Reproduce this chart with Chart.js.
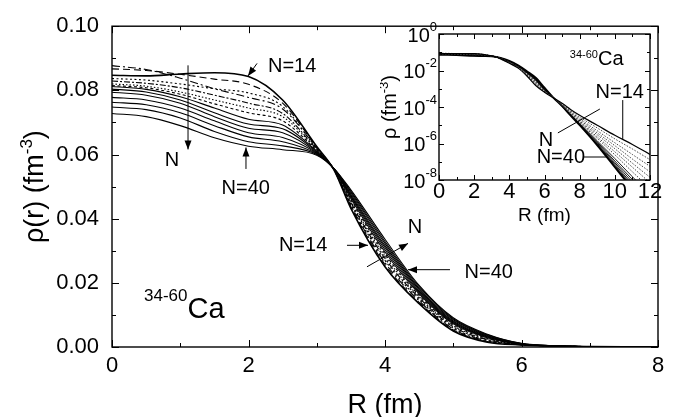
<!DOCTYPE html>
<html>
<head>
<meta charset="utf-8">
<script src="https://cdn.jsdelivr.net/npm/chart.js@4.4.1/dist/chart.umd.min.js"></script>
<style>
  html, body { margin: 0; padding: 0; background: #fff; }
  #wrap { position: relative; width: 675px; height: 417px; }
  #main { position: absolute; left: 0; top: 0; }
  #inset { position: absolute; left: 380px; top: 20px; }
</style>
</head>
<body>
<div id="wrap">
  <canvas id="main" width="675" height="417"></canvas>
  <canvas id="inset" width="290" height="215"></canvas>
</div>
<script>
// radius grid (fm) and densities (fm^-3), one array per neutron number
const radius = [0, 0.5, 1, 1.5, 2, 2.5, 3, 3.25, 3.5, 4, 4.5, 5, 5.5, 6, 6.5, 7, 7.5, 8, 9, 10, 11, 12];
const neutronNumbers = [14, 16, 18, 20, 22, 24, 26, 28, 30, 32, 34, 36, 38, 40];

const rho14 = [0.0847, 0.0845, 0.0851, 0.0855, 0.0843, 0.0770, 0.0625, 0.0553, 0.0432, 0.0250, 0.0135, 0.0050, 0.0015, 6.5e-4, 3.2e-4, 1.6e-4, 7.1e-5, 3.5e-5, 1.0e-5, 2.8e-6, 8.9e-7, 2.5e-7];
const rho16 = [0.0867, 0.0862, 0.0850, 0.0835, 0.0819, 0.0760, 0.0622, 0.0553, 0.0437, 0.0257, 0.0139, 0.0053, 0.0017, 6.6e-4, 3.3e-4, 1.4e-4, 6.0e-5, 2.8e-5, 7.1e-6, 1.8e-6, 5.0e-7, 1.3e-7];
const rho18 = [0.0877, 0.0865, 0.0838, 0.0805, 0.0778, 0.0742, 0.0620, 0.0554, 0.0441, 0.0263, 0.0144, 0.0056, 0.0019, 6.8e-4, 3.3e-4, 1.35e-4, 5.4e-5, 2.3e-5, 5.0e-6, 1.1e-6, 2.5e-7, 5.6e-8];
const rho20 = [0.0837, 0.0832, 0.0820, 0.0805, 0.0792, 0.0750, 0.0618, 0.0554, 0.0445, 0.0270, 0.0148, 0.0059, 0.0021, 7.1e-4, 3.3e-4, 1.3e-4, 4.9e-5, 2.0e-5, 3.8e-6, 7.6e-7, 1.4e-7, 2.8e-8];
const rho22 = [0.0829, 0.0822, 0.0808, 0.0785, 0.0760, 0.0728, 0.0616, 0.0554, 0.0450, 0.0276, 0.0153, 0.0063, 0.0023, 7.4e-4, 3.3e-4, 1.26e-4, 4.6e-5, 1.7e-5, 3.0e-6, 5.2e-7, 8.3e-8, 1.4e-8];
const rho24 = [0.0820, 0.0813, 0.0795, 0.0770, 0.0745, 0.0718, 0.0614, 0.0555, 0.0454, 0.0283, 0.0157, 0.0066, 0.0025, 7.7e-4, 3.3e-4, 1.23e-4, 4.3e-5, 1.55e-5, 2.3e-6, 3.5e-7, 5.0e-8, 7.1e-9];
const rho26 = [0.0815, 0.0808, 0.0788, 0.0758, 0.0730, 0.0705, 0.0612, 0.0555, 0.0459, 0.0290, 0.0161, 0.0069, 0.0027, 8.0e-4, 3.3e-4, 1.2e-4, 4.0e-5, 1.4e-5, 1.9e-6, 2.4e-7, 2.8e-8, 3.5e-9];
const rho28 = [0.0812, 0.0803, 0.0780, 0.0745, 0.0710, 0.0692, 0.0610, 0.0555, 0.0463, 0.0296, 0.0166, 0.0072, 0.0029, 8.4e-4, 3.3e-4, 1.17e-4, 3.8e-5, 1.26e-5, 1.4e-6, 1.5e-7, 1.5e-8, 1.6e-9];
const rho30 = [0.0804, 0.0795, 0.0770, 0.0730, 0.0695, 0.0680, 0.0608, 0.0556, 0.0468, 0.0303, 0.0170, 0.0075, 0.0031, 8.8e-4, 3.3e-4, 1.15e-4, 3.6e-5, 1.17e-5, 1.2e-6, 1.1e-7, 1.05e-8, 8.9e-10];
const rho32 = [0.0794, 0.0785, 0.0760, 0.0718, 0.0682, 0.0668, 0.0606, 0.0556, 0.0472, 0.0310, 0.0174, 0.0078, 0.0032, 9.3e-4, 3.35e-4, 1.15e-4, 3.5e-5, 1.12e-5, 1.05e-6, 8.9e-8, 7.6e-9, 5.6e-10];
const rho34 = [0.0778, 0.0770, 0.0745, 0.0705, 0.0668, 0.0653, 0.0604, 0.0556, 0.0476, 0.0316, 0.0179, 0.0081, 0.0034, 9.8e-4, 3.35e-4, 1.12e-4, 3.5e-5, 1.07e-5, 9.3e-7, 7.4e-8, 5.6e-9, 4.0e-10];
const rho36 = [0.0763, 0.0755, 0.0730, 0.0690, 0.0655, 0.0640, 0.0602, 0.0557, 0.0481, 0.0323, 0.0183, 0.0085, 0.0036, 1.03e-3, 3.4e-4, 1.12e-4, 3.4e-5, 1.05e-5, 8.7e-7, 6.3e-8, 4.5e-9, 3.0e-10];
const rho38 = [0.0748, 0.0740, 0.0714, 0.0672, 0.0640, 0.0627, 0.0600, 0.0557, 0.0485, 0.0329, 0.0188, 0.0088, 0.0038, 1.1e-3, 3.4e-4, 1.1e-4, 3.4e-5, 1.02e-5, 8.3e-7, 5.6e-8, 3.8e-9, 2.4e-10];
const rho40 = [0.0728, 0.0718, 0.0690, 0.0652, 0.0626, 0.0615, 0.0598, 0.0557, 0.0490, 0.0336, 0.0192, 0.0091, 0.0040, 1.15e-3, 3.3e-4, 1.1e-4, 3.3e-5, 1.0e-5, 7.9e-7, 5.0e-8, 3.2e-9, 2.0e-10];

const densities = [rho14, rho16, rho18, rho20, rho22, rho24, rho26, rho28, rho30, rho32, rho34, rho36, rho38, rho40];

const mainXTicks = [0, 2, 4, 6, 8];
const mainYTicks = [0, 0.02, 0.04, 0.06, 0.08, 0.10];
const insetXTicks = [0, 2, 4, 6, 8, 10, 12];
const insetYExponents = [0, -2, -4, -6, -8];

const FONT = '"Liberation Sans", Arial, Helvetica, sans-serif';
const dashes = [[], [7, 4], [8, 3, 2, 3], [2, 2.5], [6, 2, 2, 2], [1.5, 2], [3, 2.5], [], [], [], [], [], [], []];

function toPoints(vals) {
  return radius.map((r, i) => ({ x: r, y: vals[i] }));
}

function arrow(ctx, x1, y1, x2, y2, head) {
  ctx.beginPath();
  ctx.moveTo(x1, y1);
  ctx.lineTo(x2, y2);
  ctx.stroke();
  if (!head) return;
  const a = Math.atan2(y2 - y1, x2 - x1);
  ctx.beginPath();
  ctx.moveTo(x2, y2);
  ctx.lineTo(x2 - 9 * Math.cos(a) + 3.5 * Math.sin(a), y2 - 9 * Math.sin(a) - 3.5 * Math.cos(a));
  ctx.lineTo(x2 - 9 * Math.cos(a) - 3.5 * Math.sin(a), y2 - 9 * Math.sin(a) + 3.5 * Math.cos(a));
  ctx.closePath();
  ctx.fill();
}

// inward ticks on all four sides plus the box
function frame(ctx, a, xs, ys, xMajor, xMinor, yMajor, yMinor, major, minor) {
  ctx.save();
  ctx.strokeStyle = '#000';
  ctx.lineWidth = 1.4;
  ctx.strokeRect(a.left, a.top, a.right - a.left, a.bottom - a.top);
  ctx.lineWidth = 1;
  ctx.beginPath();
  xMajor.concat(xMinor).forEach((v, i) => {
    const len = i < xMajor.length ? major : minor;
    const px = Math.round(xs.getPixelForValue(v)) + 0.5;
    ctx.moveTo(px, a.bottom); ctx.lineTo(px, a.bottom - len);
    ctx.moveTo(px, a.top); ctx.lineTo(px, a.top + len);
  });
  yMajor.concat(yMinor).forEach((v, i) => {
    const len = i < yMajor.length ? major : minor;
    const py = Math.round(ys.getPixelForValue(v)) + 0.5;
    ctx.moveTo(a.left, py); ctx.lineTo(a.left + len, py);
    ctx.moveTo(a.right, py); ctx.lineTo(a.right - len, py);
  });
  ctx.stroke();
  ctx.restore();
}

const mainNotes = [
  { text: 'N=14', r: 2.64, rho: 0.0873 },
  { text: 'N', r: 0.88, rho: 0.0582 },
  { text: 'N=40', r: 1.96, rho: 0.0495 },
  { text: 'N=14', r: 2.80, rho: 0.0316 },
  { text: 'N', r: 4.44, rho: 0.0372 },
  { text: 'N=40', r: 5.52, rho: 0.0232 }
];
const mainArrows = [
  { from: [2.125, 0.0884], to: [1.993, 0.0845] },
  { from: [1.114, 0.0878], to: [1.114, 0.0616] },
  { from: [1.963, 0.0555], to: [1.963, 0.0622] },
  { from: [3.443, 0.0317], to: [3.751, 0.0317] },
  { from: [3.736, 0.0250], to: [4.337, 0.0323] },
  { from: [4.952, 0.0241], to: [4.337, 0.0241] }
];

const mainDecor = {
  id: 'mainDecor',
  afterDraw(chart) {
    const { ctx, chartArea: a, scales: { x, y } } = chart;
    frame(ctx, a, x, y, mainXTicks, [1, 3, 5, 7], mainYTicks, [0.01, 0.03, 0.05, 0.07, 0.09], 7, 4);
    ctx.save();
    ctx.fillStyle = '#000';
    ctx.strokeStyle = '#000';
    ctx.lineWidth = 1;
    ctx.textAlign = 'center';
    ctx.textBaseline = 'middle';
    ctx.font = '20px ' + FONT;
    mainNotes.forEach(n => ctx.fillText(n.text, x.getPixelForValue(n.r), y.getPixelForValue(n.rho)));
    mainArrows.forEach(ar => arrow(ctx, x.getPixelForValue(ar.from[0]), y.getPixelForValue(ar.from[1]),
      x.getPixelForValue(ar.to[0]), y.getPixelForValue(ar.to[1]), true));

    // isotope label
    ctx.textAlign = 'left';
    ctx.textBaseline = 'alphabetic';
    const sx = x.getPixelForValue(0.469);
    ctx.font = '17px ' + FONT;
    ctx.fillText('34-60', sx, y.getPixelForValue(0.0143));
    const sw = ctx.measureText('34-60').width;
    ctx.font = '29px ' + FONT;
    ctx.fillText('Ca', sx + sw, y.getPixelForValue(0.0091));

    // axis titles
    ctx.textAlign = 'center';
    ctx.font = '27px ' + FONT;
    ctx.fillText('R (fm)', (a.left + a.right) / 2, 413);

    ctx.translate(43, (a.top + a.bottom) / 2);
    ctx.rotate(-Math.PI / 2);
    ctx.textAlign = 'left';
    ctx.font = '27px ' + FONT;
    const w1 = ctx.measureText('\u03c1(r) (fm').width;
    const w3 = ctx.measureText(')').width;
    ctx.font = '17px ' + FONT;
    const w2 = ctx.measureText('-3').width;
    let px = -(w1 + w2 + w3) / 2;
    ctx.font = '27px ' + FONT;
    ctx.fillText('\u03c1(r) (fm', px, 0);
    ctx.font = '17px ' + FONT;
    ctx.fillText('-3', px + w1, -11);
    ctx.font = '27px ' + FONT;
    ctx.fillText(')', px + w1 + w2, 0);
    ctx.restore();
  }
};

const insetNotes = [
  { text: 'N=14', r: 10.28, lg: -3.18 },
  { text: 'N', r: 6.08, lg: -5.81 },
  { text: 'N=40', r: 6.93, lg: -6.79 }
];
const insetLines = [
  { from: [10.45, -3.62], to: [10.45, -5.75] },
  { from: [6.76, -5.42], to: [9.15, -4.11] },
  { from: [8.18, -6.74], to: [9.55, -6.74] }
];

const insetDecor = {
  id: 'insetDecor',
  afterDraw(chart) {
    const { ctx, chartArea: a, scales: { x, y } } = chart;
    const yMajor = insetYExponents.map(e => Math.pow(10, e));
    frame(ctx, a, x, y, insetXTicks, [1, 3, 5, 7, 9, 11], yMajor, [1e-1, 1e-3, 1e-5, 1e-7], 5, 3);
    ctx.save();
    ctx.fillStyle = '#000';
    ctx.strokeStyle = '#000';
    ctx.lineWidth = 1;

    // y tick labels 10^n
    ctx.textBaseline = 'middle';
    ctx.textAlign = 'left';
    insetYExponents.forEach(e => {
      const py = y.getPixelForValue(Math.pow(10, e));
      ctx.font = '13px ' + FONT;
      const we = ctx.measureText(String(e)).width;
      ctx.font = '20px ' + FONT;
      const wb = ctx.measureText('10').width;
      const x0 = a.left - 2 - we - wb;
      ctx.fillText('10', x0, py + 2);
      ctx.font = '13px ' + FONT;
      ctx.fillText(String(e), x0 + wb, py - 7);
    });

    ctx.textAlign = 'center';
    ctx.font = '20px ' + FONT;
    insetNotes.forEach(n => ctx.fillText(n.text, x.getPixelForValue(n.r), y.getPixelForValue(Math.pow(10, n.lg))));
    insetLines.forEach(l => arrow(ctx, x.getPixelForValue(l.from[0]), y.getPixelForValue(Math.pow(10, l.from[1])),
      x.getPixelForValue(l.to[0]), y.getPixelForValue(Math.pow(10, l.to[1])), false));

    ctx.textAlign = 'left';
    ctx.textBaseline = 'alphabetic';
    const sx = x.getPixelForValue(7.44);
    ctx.font = '11px ' + FONT;
    ctx.fillText('34-60', sx, y.getPixelForValue(Math.pow(10, -1.32)));
    const sw = ctx.measureText('34-60').width;
    ctx.font = '20px ' + FONT;
    ctx.fillText('Ca', sx + sw, y.getPixelForValue(Math.pow(10, -1.70)));

    ctx.textAlign = 'center';
    ctx.font = '19px ' + FONT;
    ctx.fillText('R (fm)', (a.left + a.right) / 2, 201);

    ctx.translate(16, (a.top + a.bottom) / 2);
    ctx.rotate(-Math.PI / 2);
    ctx.textAlign = 'left';
    ctx.font = '20px ' + FONT;
    const w1 = ctx.measureText('\u03c1 (fm').width;
    const w3 = ctx.measureText(')').width;
    ctx.font = '13px ' + FONT;
    const w2 = ctx.measureText('-3').width;
    const px = -(w1 + w2 + w3) / 2;
    ctx.font = '20px ' + FONT;
    ctx.fillText('\u03c1 (fm', px, 0);
    ctx.font = '13px ' + FONT;
    ctx.fillText('-3', px + w1, -8);
    ctx.font = '20px ' + FONT;
    ctx.fillText(')', px + w1 + w2, 0);
    ctx.restore();
  }
};

new Chart(document.getElementById('main'), {
  type: 'line',
  data: {
    datasets: densities.map((d, i) => ({
      label: 'N=' + neutronNumbers[i],
      data: toPoints(d),
      borderColor: '#000',
      borderWidth: i === 0 ? 1.6 : 1.1,
      borderDash: dashes[i],
      pointRadius: 0,
      cubicInterpolationMode: 'monotone',
      fill: false
    }))
  },
  options: {
    responsive: false,
    animation: false,
    events: [],
    layout: { padding: { top: 19, right: 17, left: 0, bottom: 0 } },
    plugins: { legend: { display: false }, tooltip: { enabled: false } },
    scales: {
      x: {
        type: 'linear', min: 0, max: 8,
        grid: { display: false, drawTicks: false },
        border: { display: false },
        ticks: { stepSize: 2, color: '#000', font: { family: FONT, size: 22 }, padding: 6, maxRotation: 0 },
        afterFit: s => { s.height = 70; }
      },
      y: {
        type: 'linear', min: 0, max: 0.1,
        grid: { display: false, drawTicks: false },
        border: { display: false },
        ticks: { stepSize: 0.02, color: '#000', font: { family: FONT, size: 22 }, padding: 13,
                 callback: v => v.toFixed(2) },
        afterFit: s => { s.width = 112; }
      }
    }
  },
  plugins: [mainDecor]
});

new Chart(document.getElementById('inset'), {
  type: 'line',
  data: {
    datasets: densities.map((d, i) => ({
      label: 'N=' + neutronNumbers[i],
      data: toPoints(d),
      borderColor: i > 0 && i < 7 ? '#333' : '#000',
      borderWidth: i === 0 ? 1.2 : (i === 13 ? 1.8 : 0.9),
      borderDash: i > 0 && i < 7 ? [1.5, 1.5] : [],
      pointRadius: 0,
      cubicInterpolationMode: 'monotone',
      fill: false
    }))
  },
  options: {
    responsive: false,
    animation: false,
    events: [],
    layout: { padding: { top: 14, right: 20, left: 0, bottom: 0 } },
    plugins: { legend: { display: false }, tooltip: { enabled: false } },
    scales: {
      x: {
        type: 'linear', min: 0, max: 12,
        grid: { display: false, drawTicks: false },
        border: { display: false },
        ticks: { stepSize: 2, color: '#000', font: { family: FONT, size: 22 }, padding: -1, maxRotation: 0 },
        afterFit: s => { s.height = 55; }
      },
      y: {
        type: 'logarithmic', min: 1e-8, max: 1,
        grid: { display: false, drawTicks: false },
        border: { display: false },
        ticks: { display: false },
        afterFit: s => { s.width = 59; }
      }
    }
  },
  plugins: [insetDecor]
});
</script>
</body>
</html>
